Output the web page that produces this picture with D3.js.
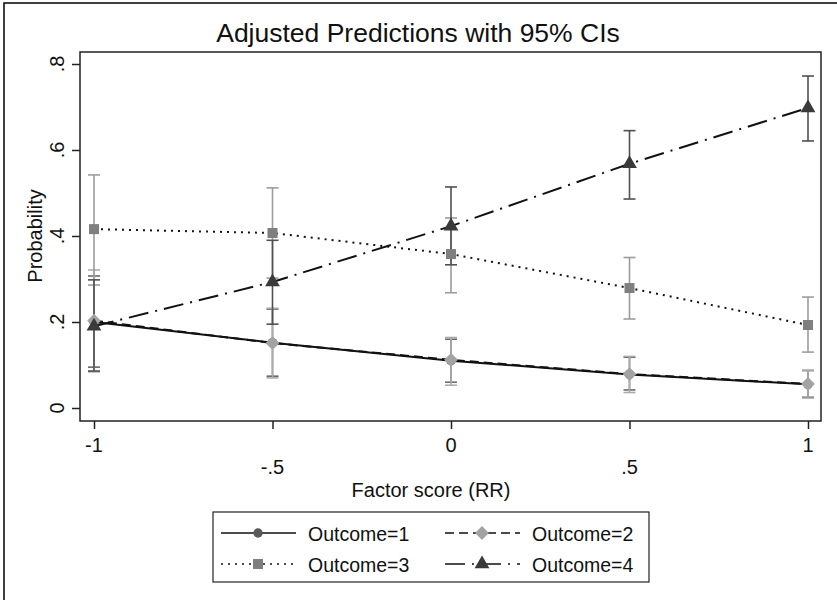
<!DOCTYPE html>
<html>
<head>
<meta charset="utf-8">
<script src="https://cdn.jsdelivr.net/npm/d3@7"></script>
<style>
  body { margin: 0; background: #fff; }
  text { font-family: "Liberation Sans", Arial, sans-serif; fill: #111; }
</style>
</head>
<body>
<svg id="svg-canvas" width="837" height="600"></svg>
<script>
// Data
const xValues = [-1, -0.5, 0, 0.5, 1];
const xTicks = [-1, -0.5, 0, 0.5, 1];
const xTickLabels = ['-1', '-.5', '0', '.5', '1'];
const yTicks = [0, 0.2, 0.4, 0.6, 0.8];
const yTickLabels = ['0', '.2', '.4', '.6', '.8'];

const outcome1 = [0.200, 0.152, 0.110, 0.078, 0.055];
const outcome1Lo = [0.095, 0.074, 0.060, 0.042, 0.025];
const outcome1Hi = [0.307, 0.230, 0.160, 0.118, 0.087];

const outcome2 = [0.203, 0.151, 0.112, 0.079, 0.056];
const outcome2Lo = [0.084, 0.070, 0.053, 0.036, 0.023];
const outcome2Hi = [0.321, 0.232, 0.164, 0.120, 0.088];

const outcome3 = [0.416, 0.407, 0.358, 0.279, 0.193];
const outcome3Lo = [0.286, 0.302, 0.268, 0.207, 0.130];
const outcome3Hi = [0.542, 0.512, 0.442, 0.350, 0.258];

const outcome4 = [0.190, 0.293, 0.423, 0.568, 0.698];
const outcome4Lo = [0.086, 0.195, 0.333, 0.486, 0.621];
const outcome4Hi = [0.298, 0.390, 0.514, 0.645, 0.772];

const seriesNames = ['Outcome=1', 'Outcome=2', 'Outcome=3', 'Outcome=4'];

const svg = d3.select('#svg-canvas');

// outer graph frame (only left/top edges fall inside the picture)
svg.append('rect')
  .attr('x', 4).attr('y', 3)
  .attr('width', 900).attr('height', 700)
  .attr('fill', 'none').attr('stroke', '#000').attr('stroke-width', 1.5);

// scales
const x = d3.scaleLinear().domain([-1, 1]).range([94, 808]);
const y = d3.scaleLinear().domain([0, 0.8]).range([408, 64]);

const plot = { left: 80, top: 52, right: 821, bottom: 421 };

svg.append('rect')
  .attr('x', plot.left).attr('y', plot.top)
  .attr('width', plot.right - plot.left).attr('height', plot.bottom - plot.top)
  .attr('fill', '#fff').attr('stroke', '#222').attr('stroke-width', 1.5);

// x axis
const xAxis = svg.append('g')
  .attr('transform', `translate(0,${plot.bottom})`)
  .call(d3.axisBottom(x).tickValues(xTicks).tickSize(8).tickFormat(''));
xAxis.select('.domain').remove();
xAxis.selectAll('line').attr('stroke', '#222').attr('stroke-width', 1.5);

svg.selectAll('.xlab')
  .data(xTicks)
  .enter()
  .append('text')
  .attr('class', 'xlab')
  .attr('x', d => x(d))
  .attr('y', (d, i) => i % 2 === 0 ? 452 : 474)
  .attr('text-anchor', 'middle')
  .attr('font-size', 20)
  .text((d, i) => xTickLabels[i]);

// y axis
const yAxis = svg.append('g')
  .attr('transform', `translate(${plot.left},0)`)
  .call(d3.axisLeft(y).tickValues(yTicks).tickSize(8).tickFormat(''));
yAxis.select('.domain').remove();
yAxis.selectAll('line').attr('stroke', '#222').attr('stroke-width', 1.5);

svg.selectAll('.ylab')
  .data(yTicks)
  .enter()
  .append('text')
  .attr('class', 'ylab')
  .attr('transform', d => `translate(64,${y(d)}) rotate(-90)`)
  .attr('text-anchor', 'middle')
  .attr('font-size', 20)
  .text((d, i) => yTickLabels[i]);

// titles
svg.append('text')
  .attr('x', 418).attr('y', 42)
  .attr('text-anchor', 'middle')
  .attr('font-size', 26.5)
  .text('Adjusted Predictions with 95% CIs');

svg.append('text')
  .attr('x', 431).attr('y', 497)
  .attr('text-anchor', 'middle')
  .attr('font-size', 20)
  .text('Factor score (RR)');

svg.append('text')
  .attr('transform', `translate(42,236) rotate(-90)`)
  .attr('text-anchor', 'middle')
  .attr('font-size', 20)
  .text('Probability');

// series definitions (rot: extra rotation of the marker glyph)
const series = [
  { name: seriesNames[0], v: outcome1, lo: outcome1Lo, hi: outcome1Hi,
    marker: d3.symbolCircle, size: 70, rot: 0, fill: '#5a5a5a', ci: '#6a6a6a', dash: null },
  { name: seriesNames[1], v: outcome2, lo: outcome2Lo, hi: outcome2Hi,
    marker: d3.symbolSquare, size: 95, rot: 45, fill: '#a3a3a3', ci: '#acacac', dash: '9,5' },
  { name: seriesNames[2], v: outcome3, lo: outcome3Lo, hi: outcome3Hi,
    marker: d3.symbolSquare, size: 100, rot: 0, fill: '#7f7f7f', ci: '#9c9c9c', dash: '2,5' },
  { name: seriesNames[3], v: outcome4, lo: outcome4Lo, hi: outcome4Hi,
    marker: d3.symbolTriangle, size: 95, rot: 0, fill: '#3a3a3a', ci: '#505050', dash: '20,7,2,7' }
];

// confidence interval caps
series.forEach(s => {
  const g = svg.append('g').attr('stroke', s.ci).attr('stroke-width', 1.6);
  xValues.forEach((xv, i) => {
    g.append('line')
      .attr('x1', x(xv)).attr('x2', x(xv))
      .attr('y1', y(s.lo[i])).attr('y2', y(s.hi[i]));
    [s.lo[i], s.hi[i]].forEach(c => {
      g.append('line')
        .attr('x1', x(xv) - 6).attr('x2', x(xv) + 6)
        .attr('y1', y(c)).attr('y2', y(c));
    });
  });
});

// connecting lines
const line = d3.line().x(d => x(d[0])).y(d => y(d[1]));
series.forEach(s => {
  svg.append('path')
    .datum(xValues.map((xv, i) => [xv, s.v[i]]))
    .attr('d', line)
    .attr('fill', 'none')
    .attr('stroke', '#111')
    .attr('stroke-width', 2)
    .attr('stroke-dasharray', s.dash);
});

// markers
series.forEach(s => {
  svg.selectAll(null)
    .data(xValues.map((xv, i) => [xv, s.v[i]]))
    .enter()
    .append('path')
    .attr('d', d3.symbol().type(s.marker).size(s.size))
    .attr('transform', d => `translate(${x(d[0])},${y(d[1])}) rotate(${s.rot})`)
    .attr('fill', s.fill);
});

// legend
const legend = svg.append('g');
legend.append('rect')
  .attr('x', 213).attr('y', 512)
  .attr('width', 436).attr('height', 70)
  .attr('fill', '#fff').attr('stroke', '#222').attr('stroke-width', 1.2);

const keyCols = [221, 445];
const keyRows = [533, 564];
series.forEach((s, i) => {
  const kx = keyCols[i % 2];
  const ky = keyRows[Math.floor(i / 2)];
  legend.append('line')
    .attr('x1', kx).attr('x2', kx + 75)
    .attr('y1', ky).attr('y2', ky)
    .attr('stroke', '#111').attr('stroke-width', 1.6)
    .attr('stroke-dasharray', s.dash);
  legend.append('path')
    .attr('d', d3.symbol().type(s.marker).size(s.size))
    .attr('transform', `translate(${kx + 37},${ky}) rotate(${s.rot})`)
    .attr('fill', s.fill);
  legend.append('text')
    .attr('x', kx + 87).attr('y', ky + 8)
    .attr('font-size', 19.5)
    .text(s.name);
});
</script>
</body>
</html>
